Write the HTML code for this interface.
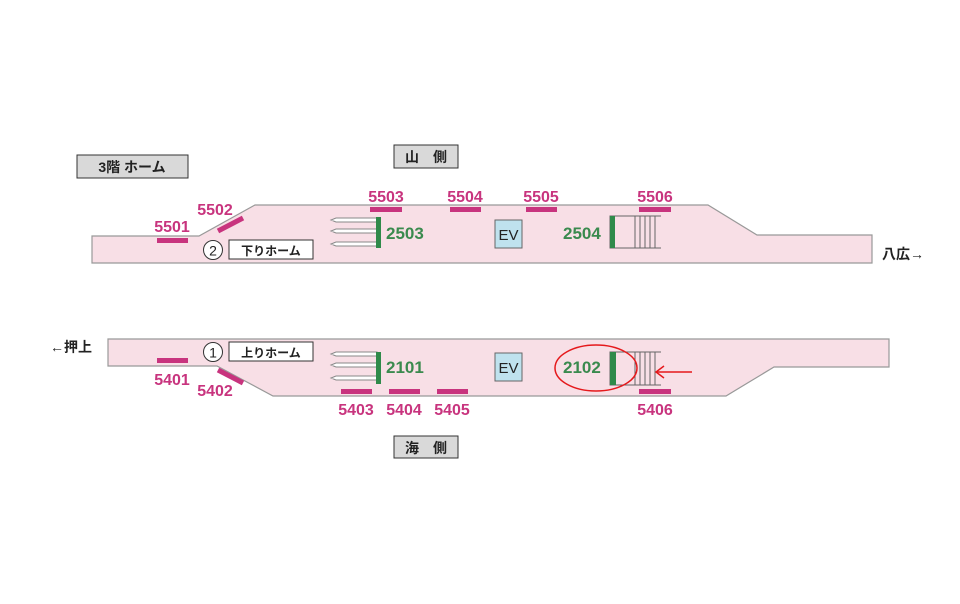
<!DOCTYPE html>
<html><head><meta charset="utf-8"><style>
html,body{margin:0;padding:0;background:#fff;}
svg{display:block;font-family:"Liberation Sans","Noto Sans CJK JP",sans-serif;}
.m{fill:#c8347e;font-weight:bold;font-size:16px;text-anchor:middle;}
.g{fill:#3a8a4e;font-weight:bold;font-size:17px;}
</style></head><body>
<svg width="960" height="604" viewBox="0 0 960 604">
<rect width="960" height="604" fill="#fff"/>
<rect x="77" y="155" width="111" height="23" fill="#d9d9d9" stroke="#333" stroke-width="1"/>
<text x="132" y="172" font-size="14" text-anchor="middle" fill="#222" font-weight="bold">3階 ホーム</text>
<rect x="394" y="145" width="64" height="23" fill="#d9d9d9" stroke="#333"/>
<text x="426" y="162" font-size="14" text-anchor="middle" fill="#222" font-weight="bold">山　側</text>
<rect x="394" y="436" width="64" height="22" fill="#d9d9d9" stroke="#333"/>
<text x="426" y="453" font-size="14" text-anchor="middle" fill="#222" font-weight="bold">海　側</text>
<polygon points="92,236 199,236 255,205 708,205 757,235 872,235 872,263 92,263" fill="#f8dfe6" stroke="#999" stroke-width="1.2"/>
<polygon points="108,339 889,339 889,367 774,367 726,396 273,396 217,366 108,366" fill="#f8dfe6" stroke="#999" stroke-width="1.2"/>
<g fill="#c8347e">
<rect x="157" y="238" width="31" height="5"/>
<rect x="370" y="207" width="32" height="5"/>
<rect x="450" y="207" width="31" height="5"/>
<rect x="526" y="207" width="31" height="5"/>
<rect x="639" y="207" width="32" height="5"/>
<rect x="157" y="358" width="31" height="5"/>
<rect x="341" y="389" width="31" height="5"/>
<rect x="389" y="389" width="31" height="5"/>
<rect x="437" y="389" width="31" height="5"/>
<rect x="639" y="389" width="32" height="5"/>
</g>
<line x1="218" y1="231" x2="243" y2="218" stroke="#c8347e" stroke-width="5"/>
<line x1="218" y1="370" x2="243" y2="383" stroke="#c8347e" stroke-width="5"/>
<text class="m" x="172" y="232">5501</text>
<text class="m" x="215" y="215">5502</text>
<text class="m" x="386" y="202">5503</text>
<text class="m" x="465" y="202">5504</text>
<text class="m" x="541" y="202">5505</text>
<text class="m" x="655" y="202">5506</text>
<text class="m" x="172" y="385">5401</text>
<text class="m" x="215" y="396">5402</text>
<text class="m" x="356" y="415">5403</text>
<text class="m" x="404" y="415">5404</text>
<text class="m" x="452" y="415">5405</text>
<text class="m" x="655" y="415">5406</text>
<g fill="#fff" stroke="#888" stroke-width="1">
<polygon points="377,218 336,218 331,220 336,222 377,222"/>
<polygon points="377,229 336,229 331,231 336,233 377,233"/>
<polygon points="377,242 336,242 331,244 336,246 377,246"/>
<polygon points="377,352 336,352 331,354 336,356 377,356"/>
<polygon points="377,363 336,363 331,365 336,367 377,367"/>
<polygon points="377,376 336,376 331,378 336,380 377,380"/>
</g>
<rect x="376" y="217" width="5" height="31" fill="#2f8a4a"/>
<rect x="376" y="352" width="5" height="32" fill="#2f8a4a"/>
<text class="g" x="386" y="239">2503</text>
<text class="g" x="386" y="373">2101</text>
<rect x="495" y="220" width="27" height="28" fill="#bfe2ee" stroke="#666"/>
<text x="508.5" y="240" font-size="15" text-anchor="middle" fill="#222">EV</text>
<rect x="495" y="353" width="27" height="28" fill="#bfe2ee" stroke="#666"/>
<text x="508.5" y="373" font-size="15" text-anchor="middle" fill="#222">EV</text>
<g stroke="#666" stroke-width="1" fill="none">
<path d="M661,216 H610 V248 H661"/>
<path d="M635,216V248M640,216V248M645,216V248M650,216V248M655,216V248"/>
<path d="M661,352 H610 V385 H661"/>
<path d="M635,352V385M640,352V385M645,352V385M650,352V385M655,352V385"/>
</g>
<rect x="610" y="216" width="5" height="32" fill="#2f8a4a"/>
<rect x="610" y="352" width="6" height="33" fill="#2f8a4a"/>
<text class="g" x="563" y="239">2504</text>
<text class="g" x="563" y="373">2102</text>
<ellipse cx="596" cy="368" rx="41" ry="23" fill="none" stroke="#e5191c" stroke-width="1.5"/>
<line x1="692" y1="372" x2="657" y2="372" stroke="#e5191c" stroke-width="1.5"/>
<path d="M664,366 L656,372 L664,378" fill="none" stroke="#e5191c" stroke-width="1.5"/>
<circle cx="213" cy="250" r="9.5" fill="#fff" stroke="#333"/>
<text x="213" y="255.5" font-size="14" text-anchor="middle" fill="#222">2</text>
<rect x="229" y="240" width="84" height="19" fill="#fff" stroke="#333"/>
<text x="271" y="255" font-size="12" text-anchor="middle" fill="#222" font-weight="bold">下りホーム</text>
<circle cx="213" cy="352" r="9.5" fill="#fff" stroke="#333"/>
<text x="213" y="357.5" font-size="14" text-anchor="middle" fill="#222">1</text>
<rect x="229" y="342" width="84" height="19" fill="#fff" stroke="#333"/>
<text x="271" y="357" font-size="12" text-anchor="middle" fill="#222" font-weight="bold">上りホーム</text>
<text x="882" y="259" font-size="14" fill="#222" font-weight="bold">八広→</text>
<text x="50" y="352" font-size="14" fill="#222" font-weight="bold">←押上</text>
</svg>
</body></html>
